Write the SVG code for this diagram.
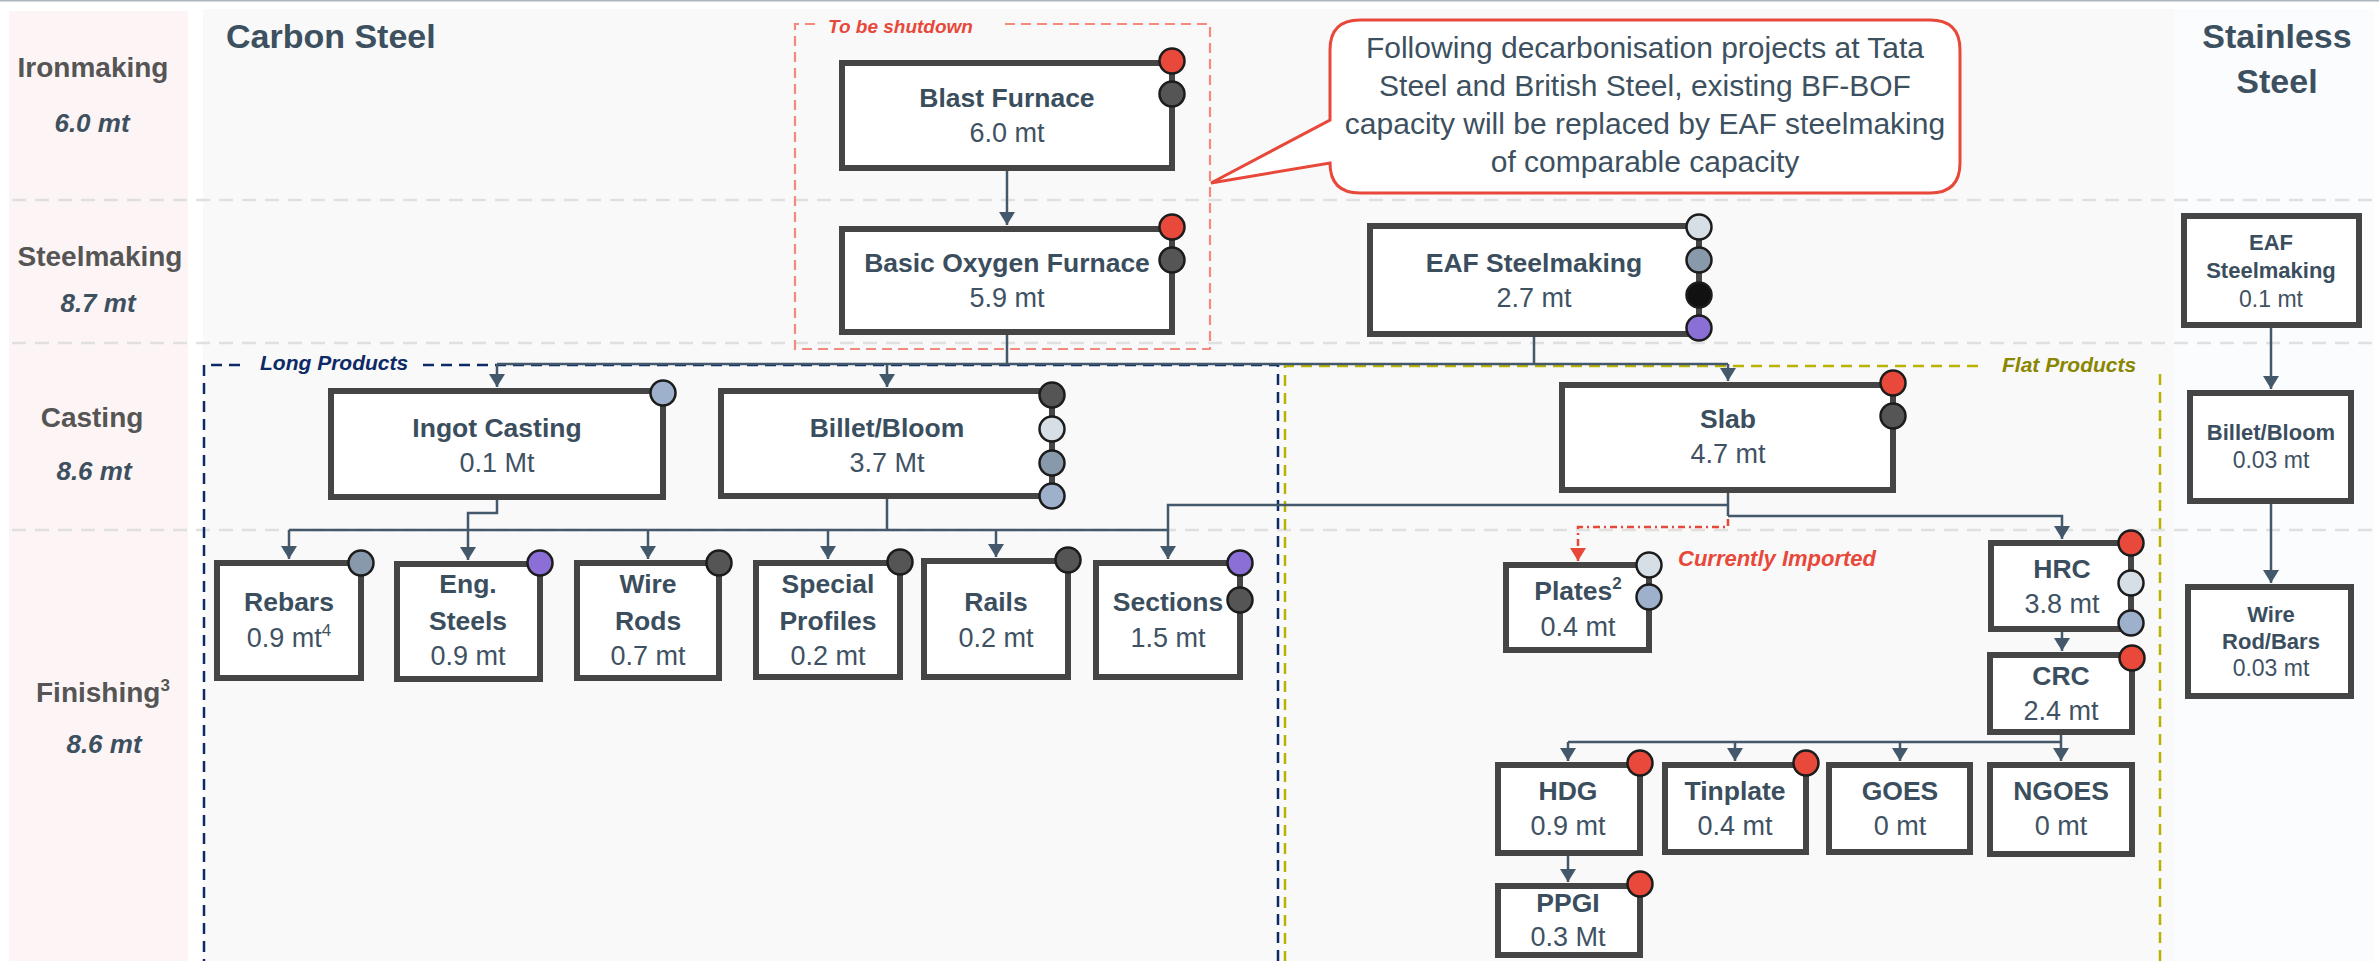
<svg xmlns="http://www.w3.org/2000/svg" width="2379" height="961" viewBox="0 0 2379 961">
<defs>
<style>
text{font-family:"Liberation Sans",Arial,sans-serif}
.box{fill:#fff;stroke:#454545;stroke-width:6}
.t{font-weight:700;font-size:26.5px;fill:#3b4e5e;text-anchor:middle}
.v{font-weight:400;font-size:27px;fill:#3f5263;text-anchor:middle}
.ts{font-weight:700;font-size:22px;fill:#3b4e5e;text-anchor:middle}
.vs{font-weight:400;font-size:23px;fill:#3f5263;text-anchor:middle}
.row{font-weight:700;font-size:28px;fill:#555;text-anchor:middle}
.rv{font-weight:700;font-style:italic;font-size:26px;fill:#3d5060;text-anchor:middle}
.head{font-weight:700;font-size:34px;fill:#3d5060}
.sep{stroke:#e0e0e0;stroke-width:2.5;stroke-dasharray:14 9;fill:none}
.conn{fill:none;stroke:#44586b;stroke-width:2.5}
.arr{marker-end:url(#ah)}
.dot{stroke:#1c1c1c;stroke-width:2.5}
.red{fill:#e8493a}.dk{fill:#555}.lt{fill:#d6dee6}.st{fill:#8799aa}.lb{fill:#9db0cc}.bk{fill:#111}.pu{fill:#8b6fd6}
.note{font-weight:700;font-style:italic}
</style>
<marker id="ah" viewBox="0 0 13 16" refX="13" refY="8" markerWidth="13" markerHeight="16" markerUnits="userSpaceOnUse" orient="auto"><path d="M0,0 L13,8 L0,16 z" fill="#44586b"/></marker>
<marker id="ahr" viewBox="0 0 13 16" refX="13" refY="8" markerWidth="13" markerHeight="16" markerUnits="userSpaceOnUse" orient="auto"><path d="M0,0 L13,8 L0,16 z" fill="#e8483a"/></marker>
</defs>

<g id="background">
<rect x="0" y="0" width="2379" height="961" fill="#ffffff"/>
<line x1="0" y1="0.8" x2="2379" y2="0.8" stroke="#aab4be" stroke-width="1.6"/>
<rect x="9" y="11" width="179" height="950" fill="#fdf5f5"/>
<rect x="203" y="9" width="1971" height="952" fill="#f9f9f9"/>
<rect x="2174" y="9" width="200" height="952" fill="#fbfcfd"/>
<line class="sep" x1="12" y1="200" x2="2379" y2="200"/>
<line class="sep" x1="12" y1="343" x2="2379" y2="343"/>
<line class="sep" x1="12" y1="530" x2="2379" y2="530"/>
</g>

<g id="row-labels">
<text class="row" x="93" y="77">Ironmaking</text>
<text class="rv" x="92" y="132">6.0 mt</text>
<text class="row" x="100" y="266">Steelmaking</text>
<text class="rv" x="98" y="312">8.7 mt</text>
<text class="row" x="92" y="427">Casting</text>
<text class="rv" x="94" y="480">8.6 mt</text>
<text class="row" x="36" y="702" style="text-anchor:start">Finishing<tspan dy="-11" font-size="17">3</tspan></text>
<text class="rv" x="104" y="753">8.6 mt</text>
</g>

<g id="headers">
<text class="head" x="226" y="48">Carbon Steel</text>
<text class="head" x="2277" y="48" text-anchor="middle">Stainless</text>
<text class="head" x="2277" y="93" text-anchor="middle">Steel</text>
</g>

<g id="groups">
<path d="M815,24 H795 V349 H1210 V24 H999" fill="none" stroke="#f28b7d" stroke-width="2.2" stroke-dasharray="10 6"/>
<text class="note" x="828" y="33" font-size="19" fill="#e8483a">To be shutdown</text>
<path d="M240,365 H204 V980 M423,365 H1278 V980" fill="none" stroke="#0d2a66" stroke-width="2.5" stroke-dasharray="11 7"/>
<text class="note" x="260" y="370" font-size="21" fill="#0d2a66">Long Products</text>
<path d="M1285,980 V366 H1985 M2160,374 V980" fill="none" stroke="#b8b300" stroke-width="2.5" stroke-dasharray="11 7"/>
<text class="note" x="2002" y="372" font-size="21" fill="#8a8600">Flat Products</text>
<text class="note" x="1678" y="566" font-size="22" fill="#e8483a">Currently Imported</text>
</g>

<g id="callout">
<path d="M1360,20 H1930 Q1960,20 1960,50 V163 Q1960,193 1930,193 H1360 Q1330,193 1330,163 L1211,183 L1330,120 V50 Q1330,20 1360,20 Z" fill="#ffffff" stroke="#e8483a" stroke-width="3"/>
<g font-size="30" fill="#3d5060" text-anchor="middle">
<text x="1645" y="58">Following decarbonisation projects at Tata</text>
<text x="1645" y="96">Steel and British Steel, existing BF-BOF</text>
<text x="1645" y="134">capacity will be replaced by EAF steelmaking</text>
<text x="1645" y="172">of comparable capacity</text>
</g>
</g>

<g id="connectors">
<path class="conn arr" d="M1007,171 V225"/>
<path class="conn" d="M1007,335 V364 M1534,337 V364 M497,364 H1728"/>
<path class="conn arr" d="M497,364 V387"/>
<path class="conn arr" d="M887,364 V387"/>
<path class="conn arr" d="M1728,364 V381"/>
<path class="conn arr" d="M497,500 V513 H468 V560"/>
<path class="conn" d="M887,499 V530 M289,530 H1168"/>
<path class="conn arr" d="M289,530 V559"/>
<path class="conn arr" d="M648,530 V559"/>
<path class="conn arr" d="M828,530 V559"/>
<path class="conn arr" d="M996,530 V557"/>
<path class="conn" d="M1728,493 V516"/>
<path class="conn arr" d="M1728,505 H1168 V559"/>
<path class="conn arr" d="M1728,516 H2062 V539"/>
<path d="M1728,519 V527 H1578 V561" fill="none" stroke="#e8483a" stroke-width="2.5" stroke-dasharray="7 4 2 4" marker-end="url(#ahr)"/>
<path class="conn arr" d="M2062,632 V651"/>
<path class="conn" d="M2061,735 V742 M1568,742 H2061"/>
<path class="conn arr" d="M1568,742 V761"/>
<path class="conn arr" d="M1735,742 V761"/>
<path class="conn arr" d="M1900,742 V761"/>
<path class="conn arr" d="M2061,742 V761"/>
<path class="conn arr" d="M1568,856 V882"/>
<path class="conn arr" d="M2271,328 V389"/>
<path class="conn arr" d="M2271,504 V583"/>
</g>

<g id="node-bf">
<rect class="box" x="842" y="63" width="330" height="105"/>
<text class="t" x="1007" y="107">Blast Furnace</text>
<text class="v" x="1007" y="142">6.0 mt</text>
<circle class="dot red" cx="1172" cy="61" r="12.5"/>
<circle class="dot dk" cx="1172" cy="94" r="12.5"/>
</g>
<g id="node-bof">
<rect class="box" x="842" y="229" width="330" height="103"/>
<text class="t" x="1007" y="272">Basic Oxygen Furnace</text>
<text class="v" x="1007" y="307">5.9 mt</text>
<circle class="dot red" cx="1172" cy="227" r="12.5"/>
<circle class="dot dk" cx="1172" cy="260" r="12.5"/>
</g>
<g id="node-eaf">
<rect class="box" x="1370" y="226" width="329" height="108"/>
<text class="t" x="1534" y="272">EAF Steelmaking</text>
<text class="v" x="1534" y="307">2.7 mt</text>
<circle class="dot lt" cx="1699" cy="227" r="12.5"/>
<circle class="dot st" cx="1699" cy="260" r="12.5"/>
<circle class="dot bk" cx="1699" cy="295" r="12.5"/>
<circle class="dot pu" cx="1699" cy="328" r="12.5"/>
</g>
<g id="node-ingot">
<rect class="box" x="331" y="391" width="332" height="106"/>
<text class="t" x="497" y="437">Ingot Casting</text>
<text class="v" x="497" y="472">0.1 Mt</text>
<circle class="dot lb" cx="663" cy="393" r="12.5"/>
</g>
<g id="node-billet">
<rect class="box" x="721" y="391" width="331" height="105"/>
<text class="t" x="887" y="437">Billet/Bloom</text>
<text class="v" x="887" y="472">3.7 Mt</text>
<circle class="dot dk" cx="1052" cy="395" r="12.5"/>
<circle class="dot lt" cx="1052" cy="429" r="12.5"/>
<circle class="dot st" cx="1052" cy="463" r="12.5"/>
<circle class="dot lb" cx="1052" cy="496" r="12.5"/>
</g>
<g id="node-slab">
<rect class="box" x="1562" y="385" width="331" height="105"/>
<text class="t" x="1728" y="428">Slab</text>
<text class="v" x="1728" y="463">4.7 mt</text>
<circle class="dot red" cx="1893" cy="383" r="12.5"/>
<circle class="dot dk" cx="1893" cy="416" r="12.5"/>
</g>
<g id="node-rebars">
<rect class="box" x="217" y="563" width="144" height="115"/>
<text class="t" x="289" y="611">Rebars</text>
<text class="v" x="289" y="647">0.9 mt<tspan dy="-11" font-size="17">4</tspan></text>
<circle class="dot st" cx="361" cy="563" r="12.5"/>
</g>
<g id="node-eng">
<rect class="box" x="397" y="564" width="143" height="115"/>
<text class="t" x="468" y="593">Eng.</text>
<text class="t" x="468" y="630">Steels</text>
<text class="v" x="468" y="665">0.9 mt</text>
<circle class="dot pu" cx="540" cy="563" r="12.5"/>
</g>
<g id="node-wire">
<rect class="box" x="577" y="563" width="142" height="115"/>
<text class="t" x="648" y="593">Wire</text>
<text class="t" x="648" y="630">Rods</text>
<text class="v" x="648" y="665">0.7 mt</text>
<circle class="dot dk" cx="719" cy="563" r="12.5"/>
</g>
<g id="node-special">
<rect class="box" x="756" y="563" width="144" height="114"/>
<text class="t" x="828" y="593">Special</text>
<text class="t" x="828" y="630">Profiles</text>
<text class="v" x="828" y="665">0.2 mt</text>
<circle class="dot dk" cx="900" cy="562" r="12.5"/>
</g>
<g id="node-rails">
<rect class="box" x="924" y="561" width="144" height="116"/>
<text class="t" x="996" y="611">Rails</text>
<text class="v" x="996" y="647">0.2 mt</text>
<circle class="dot dk" cx="1068" cy="560" r="12.5"/>
</g>
<g id="node-sections">
<rect class="box" x="1096" y="563" width="144" height="114"/>
<text class="t" x="1168" y="611">Sections</text>
<text class="v" x="1168" y="647">1.5 mt</text>
<circle class="dot pu" cx="1240" cy="563" r="12.5"/>
<circle class="dot dk" cx="1240" cy="600" r="12.5"/>
</g>
<g id="node-plates">
<rect class="box" x="1506" y="565" width="143" height="85"/>
<text class="t" x="1578" y="600">Plates<tspan dy="-11" font-size="17">2</tspan></text>
<text class="v" x="1578" y="636">0.4 mt</text>
<circle class="dot lt" cx="1649" cy="565" r="12.5"/>
<circle class="dot lb" cx="1649" cy="597" r="12.5"/>
</g>
<g id="node-hrc">
<rect class="box" x="1991" y="543" width="140" height="86"/>
<text class="t" x="2062" y="578">HRC</text>
<text class="v" x="2062" y="613">3.8 mt</text>
<circle class="dot red" cx="2131" cy="543" r="12.5"/>
<circle class="dot lt" cx="2131" cy="583" r="12.5"/>
<circle class="dot lb" cx="2131" cy="623" r="12.5"/>
</g>
<g id="node-crc">
<rect class="box" x="1990" y="655" width="142" height="77"/>
<text class="t" x="2061" y="685">CRC</text>
<text class="v" x="2061" y="720">2.4 mt</text>
<circle class="dot red" cx="2132" cy="658" r="12.5"/>
</g>
<g id="node-hdg">
<rect class="box" x="1498" y="765" width="142" height="88"/>
<text class="t" x="1568" y="800">HDG</text>
<text class="v" x="1568" y="835">0.9 mt</text>
<circle class="dot red" cx="1640" cy="763" r="12.5"/>
</g>
<g id="node-tinplate">
<rect class="box" x="1665" y="765" width="141" height="87"/>
<text class="t" x="1735" y="800">Tinplate</text>
<text class="v" x="1735" y="835">0.4 mt</text>
<circle class="dot red" cx="1806" cy="763" r="12.5"/>
</g>
<g id="node-goes">
<rect class="box" x="1829" y="765" width="141" height="87"/>
<text class="t" x="1900" y="800">GOES</text>
<text class="v" x="1900" y="835">0 mt</text>
</g>
<g id="node-ngoes">
<rect class="box" x="1990" y="765" width="142" height="89"/>
<text class="t" x="2061" y="800">NGOES</text>
<text class="v" x="2061" y="835">0 mt</text>
</g>
<g id="node-ppgi">
<rect class="box" x="1498" y="886" width="142" height="69"/>
<text class="t" x="1568" y="912">PPGI</text>
<text class="v" x="1568" y="946">0.3 Mt</text>
<circle class="dot red" cx="1640" cy="884" r="12.5"/>
</g>
<g id="node-ss-eaf">
<rect class="box" x="2184" y="216" width="175" height="109"/>
<text class="ts" x="2271" y="250">EAF</text>
<text class="ts" x="2271" y="278">Steelmaking</text>
<text class="vs" x="2271" y="307">0.1 mt</text>
</g>
<g id="node-ss-billet">
<rect class="box" x="2190" y="393" width="161" height="108"/>
<text class="ts" x="2271" y="440">Billet/Bloom</text>
<text class="vs" x="2271" y="468">0.03 mt</text>
</g>
<g id="node-ss-wire">
<rect class="box" x="2188" y="587" width="163" height="109"/>
<text class="ts" x="2271" y="622">Wire</text>
<text class="ts" x="2271" y="649">Rod/Bars</text>
<text class="vs" x="2271" y="676">0.03 mt</text>
</g>
</svg>
